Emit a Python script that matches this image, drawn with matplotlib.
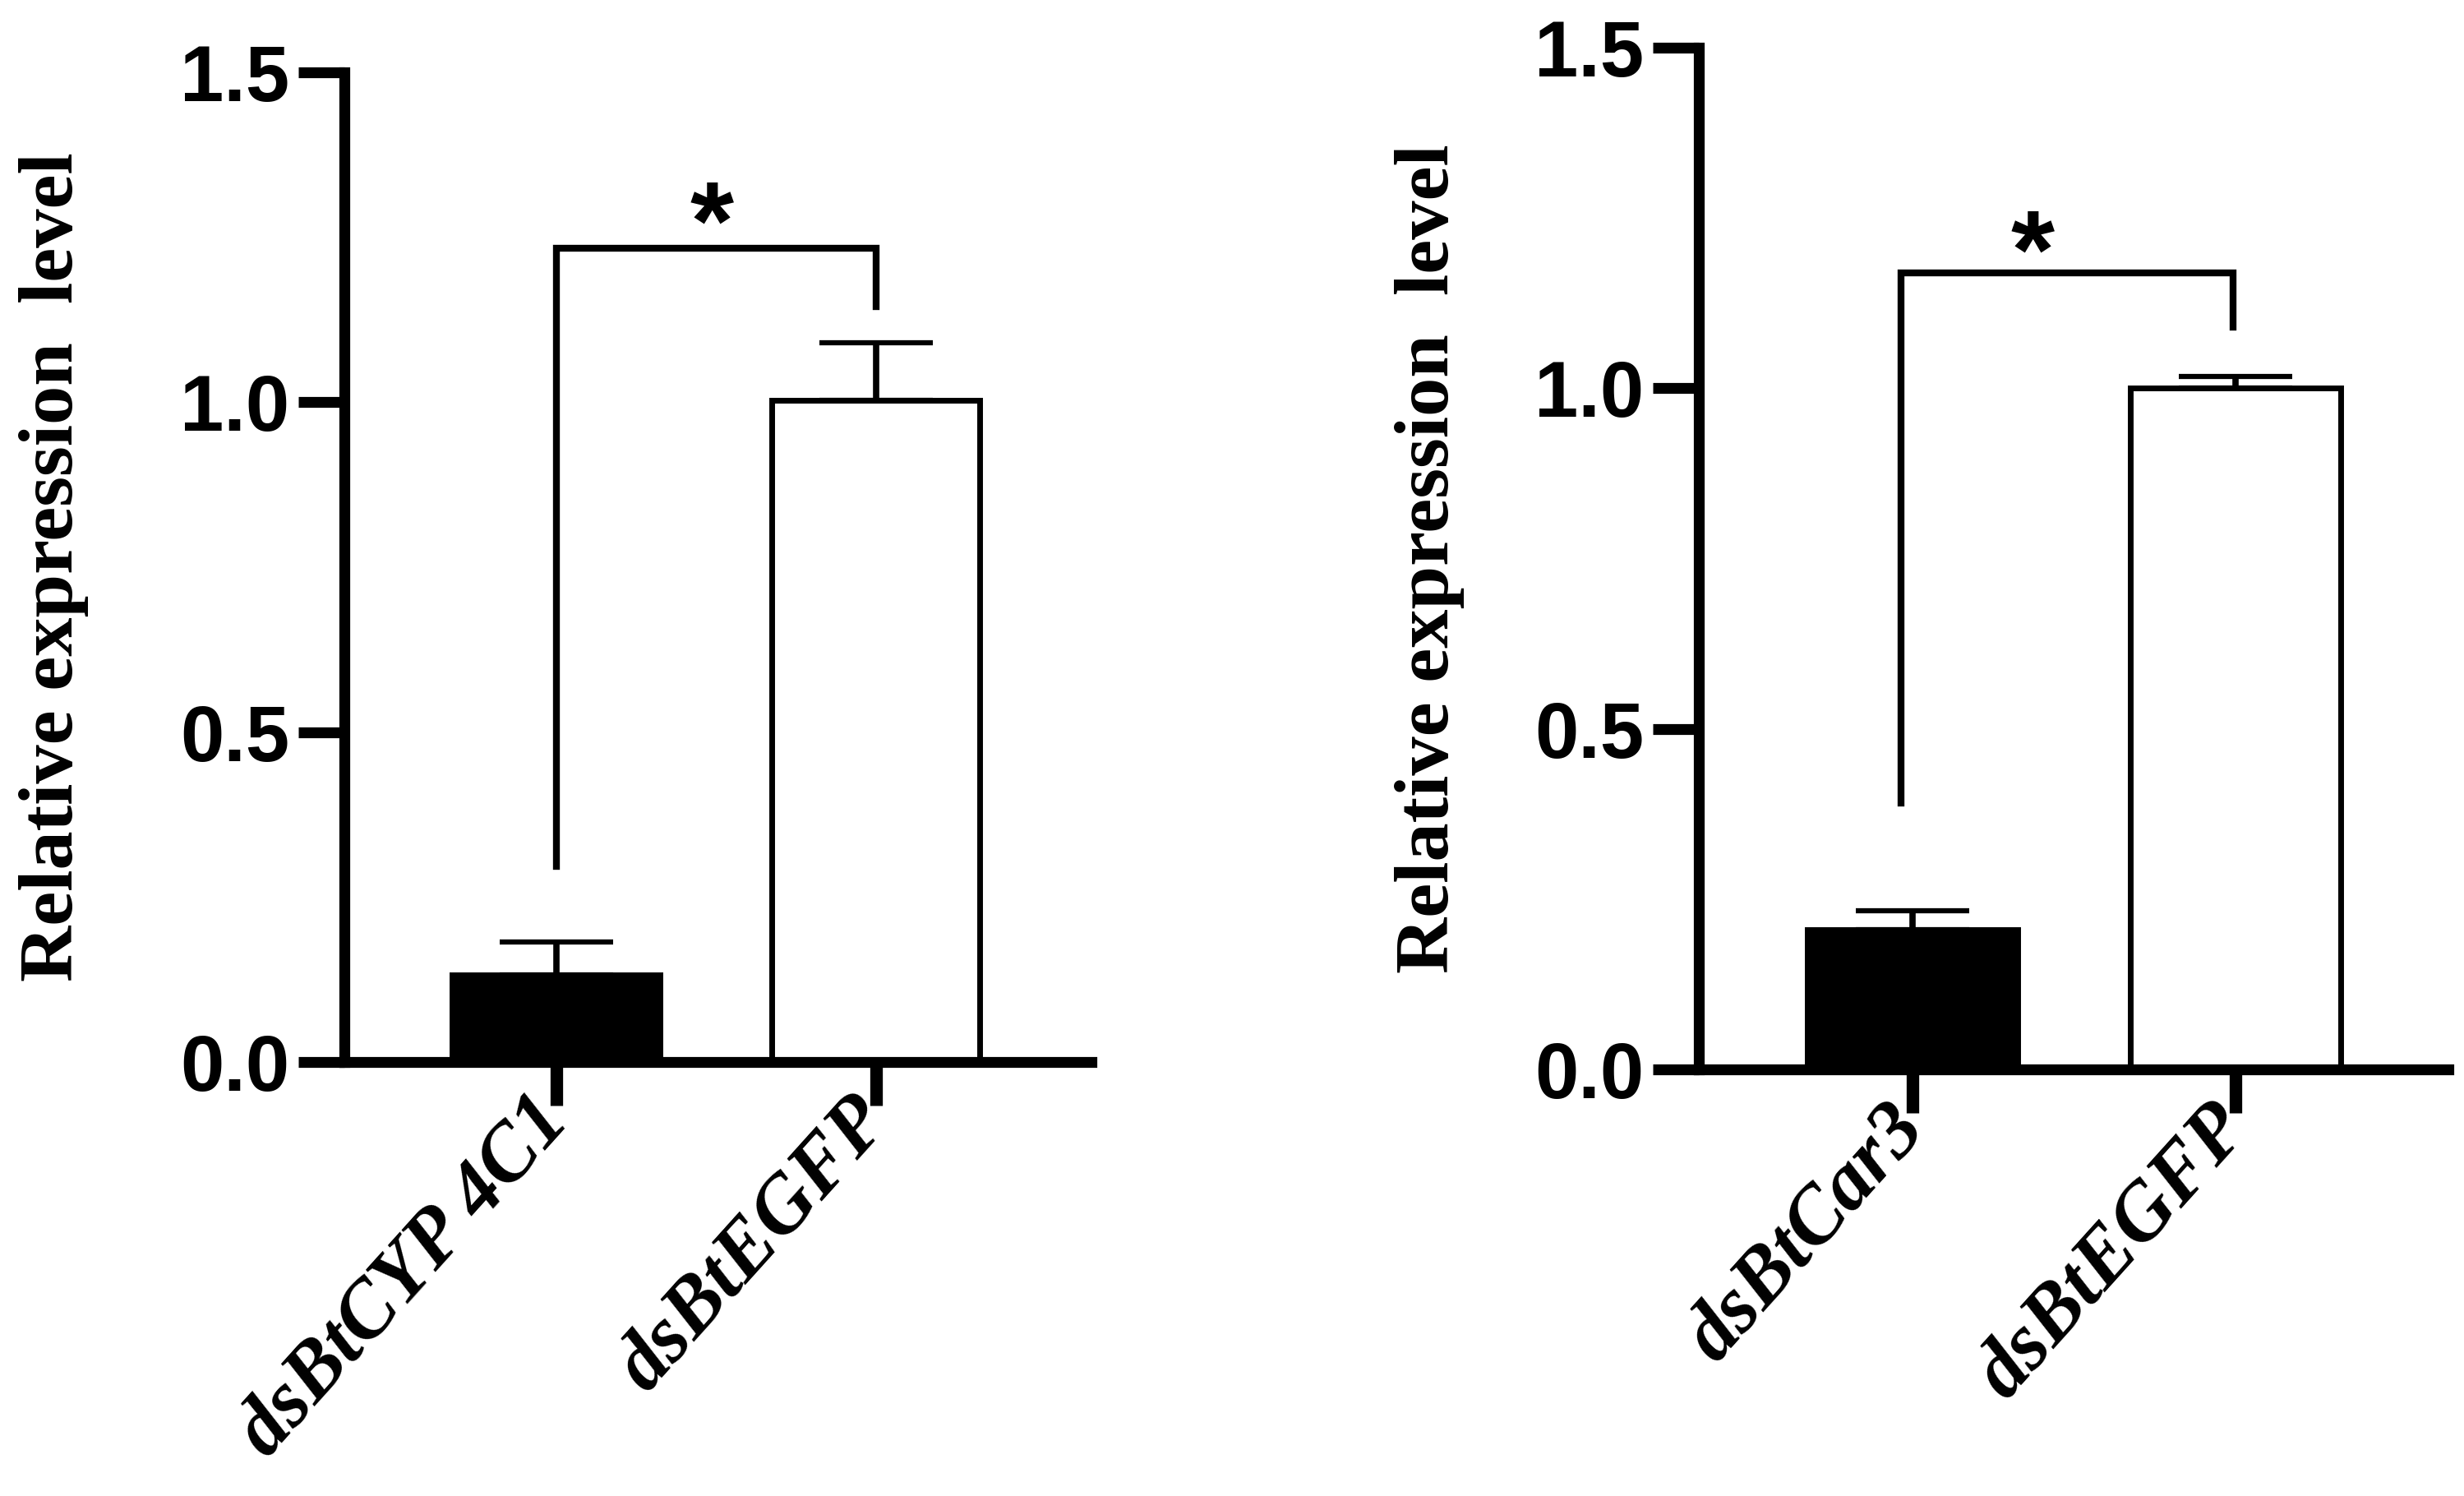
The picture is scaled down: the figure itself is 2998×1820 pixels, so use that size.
import matplotlib
matplotlib.use("Agg")
import matplotlib.pyplot as plt

# ---------------- data ----------------
left_categories = ["dsBtCYP 4C1", "dsBtEGFP"]
left_means = [0.132, 1.003]
left_sem = [0.050, 0.087]

right_categories = ["dsBtCar3", "dsBtEGFP"]
right_means = [0.205, 1.000]
right_sem = [0.028, 0.017]

bar_colors = ["black", "white"]
y_ticks = [0.0, 0.5, 1.0, 1.5]
y_label = "Relative expression  level"
sig_label = "*"

# significance brackets: (bracket height, left leg bottom, right leg bottom)
left_bracket = (1.233, 0.297, 1.145)
right_bracket = (1.169, 0.391, 1.090)

# ---------------- figure ----------------
W, H = 2998, 1820
fig = plt.figure(figsize=(W / 100, H / 100), dpi=100)

SANS = "Liberation Sans"
SERIF = "Liberation Serif"


def make_panel(rect, xlim, cats, means, sems, bracket, leg_x, star_xy, label_x):
    ax = fig.add_axes(rect)
    x = list(range(len(cats)))
    ax.bar(x, means, width=0.65, color=bar_colors, edgecolor="black",
           linewidth=5, zorder=2)
    ax.errorbar(x, means, yerr=[[0] * len(sems), sems], fmt="none",
                ecolor="black", elinewidth=5.5, capsize=50, capthick=4.5,
                zorder=1)
    by, l0, r0 = bracket
    ax.plot([leg_x[0], leg_x[0], leg_x[1], leg_x[1]], [l0, by, by, r0],
            color="black", lw=6, solid_joinstyle="miter", clip_on=False)
    ax.text(star_xy[0], star_xy[1], sig_label, ha="center", va="baseline",
            fontsize=98, fontweight="bold", family=SANS)

    ax.set_xlim(*xlim)
    ax.set_ylim(0, 1.5)
    ax.set_yticks(y_ticks)
    ax.set_yticklabels([f"{v:.1f}" for v in y_ticks])
    ax.set_xticks(x)
    ax.set_xticklabels(cats)

    for s in ["top", "right"]:
        ax.spines[s].set_visible(False)
    for s in ["left", "bottom"]:
        ax.spines[s].set_linewidth(9.5)
        ax.spines[s].set_capstyle("projecting")

    ax.tick_params(axis="y", direction="out", length=40, width=9.5, pad=8)
    ax.tick_params(axis="x", direction="out", length=38, width=11, pad=3)
    for t in ax.get_yticklabels():
        t.set_family(SANS)
        t.set_fontweight("bold")
        t.set_fontsize(69)
    for t in ax.get_xticklabels():
        t.set_family(SERIF)
        t.set_fontweight("bold")
        t.set_fontstyle("italic")
        t.set_fontsize(71)
        t.set_rotation(48)
        t.set_rotation_mode("anchor")
        t.set_ha("right")
        t.set_va("center")

    ax.set_ylabel(y_label, family=SERIF, fontweight="bold", fontsize=68,
                  va="center")
    ax.yaxis.set_label_coords(label_x, 0.5)
    return ax


# left panel: y-axis at x=419px, y0 at 1292px, y1.5 at 88px, right end 1328px
make_panel([419 / W, 1 - 1292 / H, 909 / W, (1292 - 88) / H],
           (-0.663, 1.674), left_categories, left_means, left_sem,
           left_bracket, (0, 1), (0.486, 1.218), -0.389)

# right panel: y-axis at x=2067px, y0 at 1301px, y1.5 at 58px, right end 2979px
make_panel([2067 / W, 1 - 1301 / H, 912 / W, (1301 - 58) / H],
           (-0.662, 1.659), right_categories, right_means, right_sem,
           right_bracket, (-0.035, -0.008 + 1), (0.371, 1.148), -0.359)

fig.savefig("out.png", dpi=100, facecolor="white")
